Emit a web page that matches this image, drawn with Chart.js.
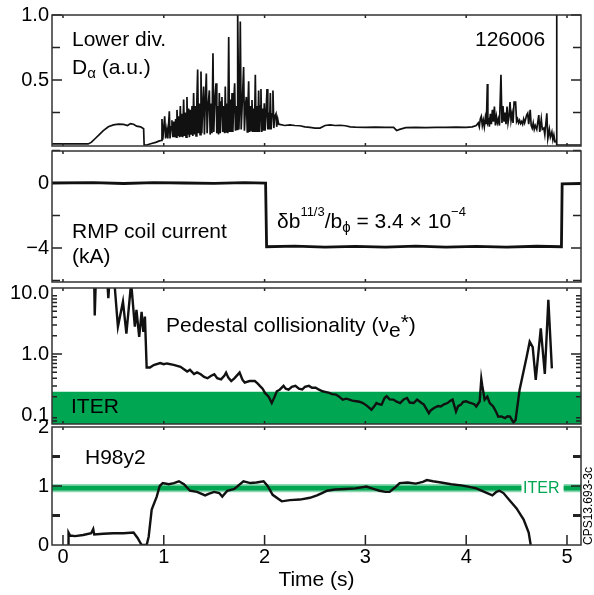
<!DOCTYPE html>
<html><head><meta charset="utf-8">
<script src="https://cdn.jsdelivr.net/npm/chart.js@4.4.1/dist/chart.umd.min.js"></script>
<style>
html,body{margin:0;padding:0;background:#fff;}
#wrap{position:relative;width:594px;height:595px;overflow:hidden;font-family:"Liberation Sans",Arial,sans-serif;color:#000;}
canvas{position:absolute;left:0;top:0;}
.t{position:absolute;white-space:nowrap;font-size:21px;line-height:21px;}
.sup{position:relative;top:-12px;font-size:13px;}
.sub{position:relative;top:4px;font-size:15px;}
</style></head><body>
<div id="wrap">
<canvas id="c1" width="594" height="595" style="width:594px;height:595px"></canvas>
<canvas id="c2" width="594" height="595" style="width:594px;height:595px"></canvas>
<canvas id="c3" width="594" height="595" style="width:594px;height:595px"></canvas>
<canvas id="c4" width="594" height="595" style="width:594px;height:595px"></canvas>
<div class="t" style="left:72px;top:28px">Lower div.</div>
<div class="t" style="left:72px;top:56px">D<span style="position:relative;top:4px;font-size:15px">α</span> (a.u.)</div>
<div class="t" style="left:475px;top:28px">126006</div>
<div class="t" style="left:72px;top:220px">RMP coil current</div>
<div class="t" style="left:72px;top:245px">(kA)</div>
<div class="t" style="left:277px;top:210px">δb<span class="sup">11/3</span>/b<span class="sub">ϕ</span> = 3.4 × 10<span class="sup">−4</span></div>
<div class="t" style="left:166px;top:314px">Pedestal collisionality (ν<span style="position:relative;top:5px">e</span><span style="position:relative;top:-3px">*</span>)</div>
<div class="t" style="left:71px;top:395px">ITER</div>
<div class="t" style="left:85px;top:446px">H98y2</div>
<div class="t" style="left:523px;top:480px;font-size:16px;line-height:16px;color:#00a651">ITER</div>
<div class="t" style="left:588px;top:506px;font-size:12px;line-height:12px;transform:translate(-50%,-50%) rotate(-90deg)">CPS13.693-3c</div>
</div>
<script>
// ---------- data ----------
const timeRange = [-0.109, 5.139];
const timeTicks = [0, 1, 2, 3, 4, 5];

const dalphaTicks = [0.5, 1.0];
const dalphaTickLabels = ['0.5', '1.0'];
const dalpha = [
[-0.11,0.008],[0.25,0.008],[0.28,0.02],[0.32,0.05],[0.36,0.08],[0.4,0.11],[0.45,0.14],[0.5,0.155],[0.55,0.16],[0.6,0.158],[0.64,0.15],[0.67,0.165],[0.7,0.16],[0.73,0.145],[0.77,0.14],[0.8,0.125],[0.805,0.0],[0.83,0.0],[0.87,0.01],[0.92,0.02],[0.95,0.03],[0.975,0.035],
[0.982,0.2],[0.99,0.04],[1.009,0.22],[1.018,0.05],[1.03,0.12],[1.04,0.05],[1.055,0.26],[1.062,0.05],[1.072,0.14],[1.081,0.19],[1.09,0.06],[1.1,0.18],[1.108,0.06],[1.118,0.2],[1.125,0.06],[1.131,0.27],[1.14,0.07],[1.148,0.22],[1.156,0.06],[1.164,0.3],[1.172,0.07],[1.18,0.24],[1.188,0.06],[1.197,0.35],[1.205,0.07],[1.213,0.25],[1.221,0.06],[1.23,0.37],[1.238,0.08],[1.246,0.28],[1.254,0.06],[1.263,0.27],[1.271,0.08],[1.28,0.3],[1.288,0.07],[1.296,0.4],[1.304,0.08],[1.312,0.3],[1.32,0.07],[1.328,0.33],[1.336,0.58],[1.344,0.09],[1.352,0.32],[1.36,0.08],[1.369,0.565],[1.377,0.09],[1.386,0.3],[1.395,0.45],[1.403,0.08],[1.412,0.33],[1.422,0.55],[1.43,0.09],[1.44,0.3],[1.452,0.42],[1.46,0.08],[1.47,0.32],[1.478,0.09],[1.488,0.705],[1.496,0.1],[1.505,0.33],[1.518,0.475],[1.526,0.09],[1.535,0.3],[1.543,0.08],[1.551,0.4],[1.56,0.09],[1.568,0.33],[1.577,0.37],[1.585,0.1],[1.595,0.3],[1.603,0.09],[1.61,0.45],[1.618,0.1],[1.627,0.32],[1.635,0.09],[1.644,0.83],[1.652,0.1],[1.66,0.35],[1.668,0.1],[1.677,0.4],[1.685,0.1],[1.694,0.33],[1.703,0.475],[1.711,0.11],[1.72,0.3],[1.728,0.12],[1.733,1.02],[1.745,0.12],[1.752,0.3],[1.759,0.95],[1.768,0.12],[1.78,0.35],[1.792,0.6],[1.8,0.11],[1.81,0.3],[1.819,0.37],[1.828,0.1],[1.835,0.3],[1.842,0.49],[1.85,0.1],[1.86,0.3],[1.868,0.11],[1.875,0.346],[1.884,0.1],[1.892,0.28],[1.9,0.1],[1.908,0.54],[1.916,0.1],[1.925,0.3],[1.933,0.1],[1.941,0.42],[1.95,0.1],[1.957,0.3],[1.964,0.43],[1.972,0.1],[1.98,0.28],[1.988,0.11],[1.997,0.32],[2.005,0.11],[2.015,0.26],[2.024,0.43],[2.032,0.12],[2.04,0.25],[2.048,0.12],[2.057,0.4],[2.065,0.12],[2.074,0.24],[2.083,0.42],[2.092,0.13],[2.1,0.22],[2.113,0.24],[2.12,0.14],[2.13,0.2],[2.14,0.16],
[2.2,0.15],[2.25,0.155],[2.3,0.15],[2.35,0.148],[2.4,0.14],[2.45,0.135],[2.5,0.13],[2.55,0.13],[2.6,0.15],[2.65,0.155],[2.7,0.15],[2.75,0.152],[2.8,0.148],[2.85,0.14],[2.9,0.138],[3.0,0.136],[3.1,0.138],[3.2,0.136],[3.28,0.135],[3.31,0.112],[3.34,0.12],[3.4,0.133],[3.5,0.135],[3.6,0.134],[3.7,0.136],[3.8,0.135],[3.9,0.137],[4.0,0.136],[4.06,0.14],
[4.1,0.15],[4.12,0.17],[4.13,0.14],[4.14,0.2],[4.15,0.22],[4.16,0.15],[4.17,0.19],[4.18,0.14],[4.19,0.21],[4.2,0.16],[4.21,0.47],[4.215,0.17],[4.225,0.19],[4.23,0.14],[4.24,0.24],[4.25,0.16],[4.26,0.27],[4.27,0.18],[4.28,0.295],[4.29,0.15],[4.3,0.22],[4.31,0.17],[4.32,0.2],[4.33,0.15],[4.345,0.54],[4.355,0.17],[4.365,0.3],[4.375,0.18],[4.385,0.25],[4.395,0.16],[4.405,0.295],[4.415,0.17],[4.425,0.22],[4.435,0.33],[4.445,0.19],[4.455,0.24],[4.465,0.17],[4.475,0.33],[4.49,0.33],[4.5,0.18],[4.51,0.2],[4.52,0.17],[4.53,0.19],[4.54,0.165],[4.55,0.18],[4.56,0.16],[4.57,0.2],[4.58,0.17],[4.6,0.23],[4.61,0.244],[4.62,0.16],[4.635,0.27],[4.645,0.15],[4.655,0.13],[4.665,0.17],[4.675,0.12],[4.685,0.15],[4.7,0.12],[4.72,0.23],[4.73,0.1],[4.745,0.2],[4.755,0.12],[4.77,0.13],[4.78,0.08],[4.8,0.244],[4.81,0.05],[4.825,0.12],[4.835,0.06],[4.85,0.1],[4.86,0.04],[4.87,0.077],[4.88,0.026],[4.895,0.03],[4.897,1.1],[4.9,0.0],[5.14,0.0]
];

const rmpTicks = [0, -4];
const rmpTickLabels = ['0', '−4'];
const rmp = [
[-0.11,0.0],[0.3,0.02],[0.6,-0.03],[0.9,0.02],[1.2,0.0],[1.5,-0.02],[1.8,0.02],[2.01,0.0],[2.02,-3.92],[2.3,-3.88],[2.6,-3.95],[2.9,-3.9],[3.2,-3.94],[3.5,-3.88],[3.8,-3.95],[4.1,-3.9],[4.4,-3.94],[4.7,-3.89],[4.945,-3.92],[4.952,-0.05],[5.14,-0.03]
];

const nuTicks = [0.1, 1, 10];
const nuTickLabels = ['0.1', '1.0', '10.0'];
const nuIterTop = 0.24;
const nu = [
[0.31,15],[0.315,4.3],[0.325,15],[0.44,15],[0.45,8.2],[0.46,15],[0.51,15],[0.545,2.8],[0.595,7.2],[0.629,2.15],[0.67,11.5],[0.679,13],[0.713,2.8],[0.729,5.3],[0.756,1.9],[0.78,4.9],[0.797,2.3],[0.813,4.1],[0.83,0.6],[0.863,0.6],[0.9,0.66],[0.964,0.71],[1.0,0.68],[1.031,0.7],[1.098,0.665],[1.166,0.617],[1.232,0.515],[1.26,0.55],[1.3,0.47],[1.33,0.5],[1.366,0.465],[1.4,0.42],[1.434,0.4],[1.47,0.44],[1.501,0.465],[1.53,0.4],[1.568,0.384],[1.6,0.44],[1.618,0.496],[1.64,0.41],[1.669,0.36],[1.7,0.4],[1.752,0.496],[1.78,0.38],[1.803,0.34],[1.85,0.36],[1.903,0.36],[1.93,0.33],[1.953,0.3],[1.98,0.27],[2.004,0.23],[2.04,0.2],[2.071,0.157],[2.1,0.2],[2.121,0.245],[2.15,0.26],[2.188,0.3],[2.21,0.27],[2.238,0.26],[2.27,0.29],[2.306,0.3],[2.34,0.27],[2.373,0.262],[2.4,0.29],[2.44,0.3],[2.47,0.28],[2.507,0.28],[2.54,0.26],[2.574,0.245],[2.6,0.24],[2.641,0.23],[2.67,0.22],[2.708,0.216],[2.74,0.2],[2.775,0.179],[2.81,0.185],[2.842,0.179],[2.87,0.172],[2.91,0.168],[2.94,0.165],[2.976,0.157],[3.02,0.14],[3.06,0.122],[3.09,0.14],[3.11,0.157],[3.14,0.15],[3.161,0.148],[3.19,0.19],[3.211,0.203],[3.24,0.18],[3.278,0.179],[3.31,0.165],[3.345,0.157],[3.38,0.18],[3.413,0.19],[3.44,0.16],[3.479,0.157],[3.513,0.179],[3.55,0.16],[3.58,0.148],[3.63,0.107],[3.65,0.12],[3.681,0.13],[3.72,0.14],[3.748,0.138],[3.78,0.15],[3.815,0.157],[3.84,0.17],[3.865,0.179],[3.899,0.114],[3.92,0.14],[3.949,0.148],[3.97,0.165],[3.999,0.168],[4.03,0.16],[4.05,0.157],[4.08,0.15],[4.1,0.138],[4.134,0.168],[4.15,0.39],[4.16,0.3],[4.183,0.179],[4.21,0.2],[4.234,0.157],[4.268,0.138],[4.3,0.11],[4.318,0.094],[4.35,0.095],[4.385,0.089],[4.41,0.095],[4.435,0.094],[4.469,0.075],[4.49,0.083],[4.53,0.26],[4.6,0.9],[4.63,1.59],[4.66,1.3],[4.69,0.375],[4.74,2.63],[4.78,0.47],[4.815,7.7],[4.85,0.58]
];

const hTicks = [0, 1, 2];
const hTickLabels = ['0', '1', '2'];
const hIterOuter = [0.895, 1.035];
const hIterInner = [0.925, 1.005];
const hIterSegments = [[-0.11, 4.55], [4.965, 5.14]];
const h98 = [
[0.05,0],[0.055,0.21],[0.07,0.16],[0.12,0.15],[0.2,0.17],[0.28,0.2],[0.3,0.27],[0.31,0.18],[0.4,0.19],[0.5,0.2],[0.6,0.2],[0.7,0.21],[0.74,0.12],[0.78,0],[0.83,0],[0.85,0.14],[0.88,0.6],[0.93,0.82],[0.96,1.0],[0.99,1.05],[1.05,1.03],[1.1,1.05],[1.15,1.08],[1.2,1.03],[1.26,0.92],[1.33,0.9],[1.41,0.84],[1.45,0.87],[1.5,0.9],[1.55,0.88],[1.58,0.82],[1.63,0.92],[1.7,0.95],[1.79,1.08],[1.86,1.05],[1.92,1.06],[1.99,1.08],[2.03,1.0],[2.08,0.85],[2.17,0.74],[2.25,0.76],[2.35,0.77],[2.45,0.8],[2.52,0.84],[2.57,0.88],[2.62,0.92],[2.7,0.94],[2.8,0.95],[2.9,0.96],[3.01,0.99],[3.08,0.95],[3.14,0.92],[3.2,0.9],[3.24,0.9],[3.29,0.97],[3.34,1.05],[3.42,1.06],[3.5,1.04],[3.57,1.07],[3.61,1.1],[3.67,1.08],[3.75,1.06],[3.85,1.03],[3.95,1.01],[4.02,0.99],[4.1,0.96],[4.18,0.9],[4.26,0.84],[4.3,0.9],[4.33,0.92],[4.37,0.88],[4.43,0.76],[4.5,0.62],[4.57,0.43],[4.62,0.21],[4.64,0]
];

// ---------- helpers ----------
Chart.defaults.font.family = "'Liberation Sans', Arial, sans-serif";
const FONT = {family:"'Liberation Sans', Arial, sans-serif", size:20};
const TITLE_FONT = {family:"'Liberation Sans', Arial, sans-serif", size:21};
const xy = a => a.map(p => ({x:p[0], y:p[1]}));

const framePlugin = {
  id: 'frame',
  afterDatasetsDraw(chart, args, o) {
    const {ctx, chartArea:a, scales} = chart;
    const ys = scales.y, xs = scales.x;
    ctx.save();
    ctx.strokeStyle = '#222';
    const yt = (vals, len, w) => {
      ctx.lineWidth = w;
      vals.forEach(v => {
        const p = ys.getPixelForValue(v);
        ctx.beginPath();
        ctx.moveTo(a.left, p); ctx.lineTo(a.left + len, p);
        ctx.moveTo(a.right, p); ctx.lineTo(a.right - len, p);
        ctx.stroke();
      });
    };
    yt(o.major || [], 10, 1.5);
    yt(o.minor || [], o.minorLen || 8, o.minorWidth || 1.5);
    ctx.lineWidth = 1.5;
    timeTicks.forEach(t => {
      const p = xs.getPixelForValue(t);
      ctx.beginPath();
      ctx.moveTo(p, a.bottom); ctx.lineTo(p, a.bottom - (o.xBottom || 3));
      ctx.moveTo(p, a.top); ctx.lineTo(p, a.top + 3);
      ctx.stroke();
    });
    ctx.lineWidth = 1.5;
    ctx.strokeStyle = '#333';
    ctx.strokeRect(a.left, a.top, a.right - a.left, a.bottom - a.top);
    ctx.restore();
  }
};

function yAxis(type, min, max, vals, labels) {
  return {
    type, min, max,
    afterFit: s => { s.width = 52; },
    afterBuildTicks: s => { s.ticks = vals.map(v => ({value:v})); },
    ticks: { font: FONT, color:'#000', padding: 3,
      callback: v => { const i = vals.indexOf(v); return i >= 0 ? labels[i] : ''; } },
    grid: { display:false, drawTicks:false },
    border: { display:false }
  };
}
function xHidden() {
  return { type:'linear', min:timeRange[0], max:timeRange[1], display:false };
}
function make(id, top, bottom, y, datasets, frame, xScale) {
  return new Chart(document.getElementById(id), {
    type: 'line',
    data: { datasets },
    options: {
      responsive:false, animation:false, events:[],
      layout: { padding: { left:0, right:13, top, bottom } },
      plugins: { legend:{display:false}, tooltip:{enabled:false}, frame },
      elements: { point:{radius:0}, line:{tension:0} },
      scales: { x: xScale || xHidden(), y }
    },
    plugins: [framePlugin]
  });
}
const trace = (data, w) => ({ data: xy(data), borderColor:'#111', borderWidth:w, fill:false, order:0 });

// Panel 1: D-alpha
make('c1', 15, 595-146, yAxis('linear', -0.0077, 1.0, dalphaTicks, dalphaTickLabels),
  [trace(dalpha, 1.7)], { major:[0.5, 1.0], minor:[0.25, 0.75] });

// Panel 2: RMP coil current
make('c2', 151, 595-282, yAxis('linear', -6.09, 1.97, rmpTicks, rmpTickLabels),
  [trace(rmp, 2.8)], { major:[-4], minor:[2, -2, -6] });

// Panel 3: pedestal collisionality (log)
const nuMinor = [0.08,0.09,0.2,0.3,0.4,0.5,0.6,0.7,0.8,0.9,2,3,4,5,6,7,8,9];
make('c3', 288, 595-424, yAxis('logarithmic', 0.0712, 12.08, nuTicks, nuTickLabels),
  [trace(nu, 2.4),
   { data: xy([[timeRange[0], nuIterTop], [timeRange[1], nuIterTop]]), borderWidth:0, borderColor:'rgba(0,0,0,0)',
     backgroundColor:'#00a651', fill:'start', order:2 }],
  { major:[1], minor: nuMinor, minorLen:5, minorWidth:1.5 });

// Panel 4: H98y2
const hBands = [];
hIterSegments.forEach(seg => {
  hBands.push({ data: xy([[seg[0], hIterOuter[1]], [seg[1], hIterOuter[1]]]), borderWidth:0, borderColor:'rgba(0,0,0,0)',
    backgroundColor:'rgba(0,166,81,0.45)', fill:{value:hIterOuter[0]}, order:3 });
  hBands.push({ data: xy([[seg[0], hIterInner[1]], [seg[1], hIterInner[1]]]), borderWidth:0, borderColor:'rgba(0,0,0,0)',
    backgroundColor:'#00a651', fill:{value:hIterInner[0]}, order:2 });
});
make('c4', 427, 0, yAxis('linear', 0, 2, hTicks, hTickLabels),
  [trace(h98, 2.4)].concat(hBands),
  { major:[1], minor:[0.5, 1.5], minorLen:8, minorWidth:3, xBottom:10 },
  { type:'linear', min:timeRange[0], max:timeRange[1],
    afterFit: s => { s.height = 50; },
    afterBuildTicks: s => { s.ticks = timeTicks.map(v => ({value:v})); },
    ticks: { font: FONT, color:'#000', padding:0, maxRotation:0, autoSkip:false, callback: v => String(v) },
    grid: { display:false, drawTicks:false }, border:{display:false},
    title: { display:true, text:'Time (s)', font: TITLE_FONT, color:'#000', padding:{top:0, bottom:2} } });
</script>
</body></html>
